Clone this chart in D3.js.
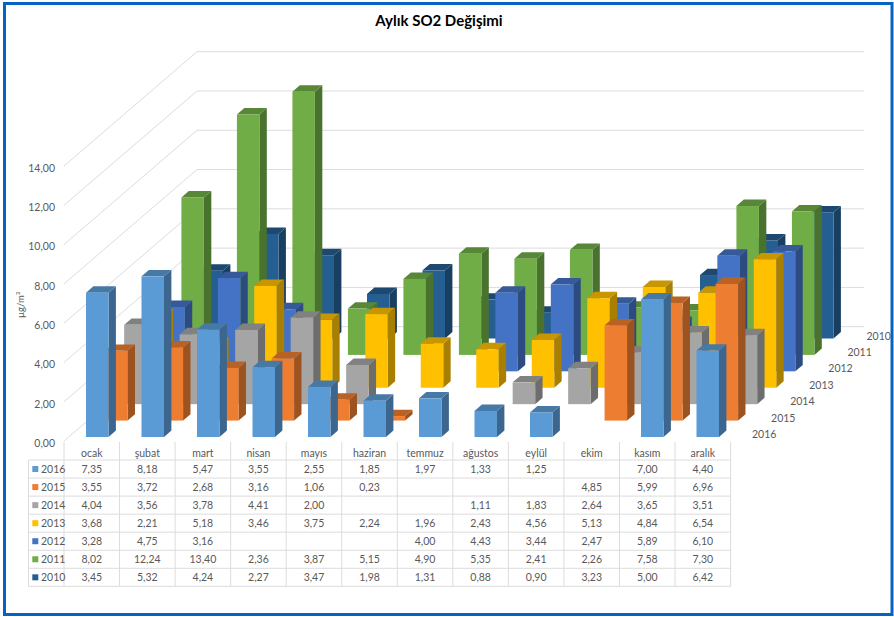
<html>
<meta charset="utf-8">
<head>
<script src="https://d3js.org/d3.v7.min.js"></script>
<style>
html, body { margin: 0; padding: 0; background: #fff; }
svg { display: block; }
text { font-family: Lato, "Open Sans", sans-serif; fill: #595959; }
</style>
</head>
<body>
<div id="center"></div>
<script>
var months = ["ocak", "şubat", "mart", "nisan", "mayıs", "haziran", "temmuz", "ağustos", "eylül", "ekim", "kasım", "aralık"];
var years = ["2016", "2015", "2014", "2013", "2012", "2011", "2010"];
var yTicks = [0, 2, 4, 6, 8, 10, 12, 14];

var v2016 = [7.35, 8.18, 5.47, 3.55, 2.55, 1.85, 1.97, 1.33, 1.25, null, 7.00, 4.40];
var v2015 = [3.55, 3.72, 2.68, 3.16, 1.06, 0.23, null, null, null, 4.85, 5.99, 6.96];
var v2014 = [4.04, 3.56, 3.78, 4.41, 2.00, null, null, 1.11, 1.83, 2.64, 3.65, 3.51];
var v2013 = [3.68, 2.21, 5.18, 3.46, 3.75, 2.24, 1.96, 2.43, 4.56, 5.13, 4.84, 6.54];
var v2012 = [3.28, 4.75, 3.16, null, null, null, 4.00, 4.43, 3.44, 2.47, 5.89, 6.10];
var v2011 = [8.02, 12.24, 13.40, 2.36, 3.87, 5.15, 4.90, 5.35, 2.41, 2.26, 7.58, 7.30];
var v2010 = [3.45, 5.32, 4.24, 2.27, 3.47, 1.98, 1.31, 0.88, 0.90, 3.23, 5.00, 6.42];
var values = [v2016, v2015, v2014, v2013, v2012, v2011, v2010];
var colors = ["#5b9bd5", "#ed7d31", "#a5a5a5", "#ffc000", "#4472c4", "#70ad47", "#255e91"];

var W = 894, H = 617;
var svg = d3.select("#center").append("svg").attr("width", W).attr("height", H);

// frame
svg.append("rect").attr("x", 4.5).attr("y", 3.5).attr("width", W - 6.5).attr("height", H - 6)
    .attr("fill", "#fff").attr("stroke", "#0563c1").attr("stroke-width", 3);

svg.append("text").attr("x", 439).attr("y", 26).attr("text-anchor", "middle")
    .style("font-size", "15px").style("font-weight", "bold").style("fill", "#000")
    .text("Aylık SO2 Değişimi");

// scales
var barW = 22.5, sideX = 7.4, sideY = 6.4;
var yVal = d3.scaleLinear().domain([0, 14]).range([0, 275]);
var xMonth = d3.scalePoint().domain(months).range([86, 86 + 11 * 55.5]);
var depX = d3.scalePoint().domain(years).range([0, 114.5]);
var depY = d3.scalePoint().domain(years).range([437, 338.5]);

// walls
var grid = svg.append("g").attr("fill", "none").attr("stroke", "#dcdcdc").attr("stroke-width", 1);
yTicks.forEach(function(t) {
    var h = yVal(t);
    grid.append("path").attr("d", "M64," + (441 - h) + "L197," + (326.7 - h) + "L864," + (326.7 - h));
});

var yAxisScale = d3.scaleLinear().domain([0, 14]).range([443, 168]);
var yAxis = svg.append("g").attr("transform", "translate(60,0)")
    .call(d3.axisLeft(yAxisScale).tickValues(yTicks).tickSize(0).tickPadding(5)
        .tickFormat(function(d) { return d.toFixed(2).replace(".", ","); }));
yAxis.select(".domain").remove();
yAxis.selectAll("text").style("font-size", "10.5px").style("font-family", "Lato").attr("fill", "#595959");

svg.append("text").attr("transform", "translate(24,305) rotate(-90)").attr("text-anchor", "middle")
    .style("font-size", "9.5px").text("µg/m³");

// bars, back row first
function shade(c, k) {
    var r = d3.rgb(c);
    return d3.rgb(r.r * k, r.g * k, r.b * k).formatHex();
}

for (var s = years.length - 1; s >= 0; s--) {
    var yr = years[s];
    var row = svg.append("g").attr("class", "row-" + yr);
    var bars = row.selectAll("g").data(values[s].map(function(v, i) { return { v: v, m: months[i] }; })
        .filter(function(d) { return d.v !== null; })).enter().append("g");

    var col = colors[s];
    var bx = function(d) { return xMonth(d.m) + depX(yr); };
    var by = depY(yr);

    bars.append("path").attr("fill", shade(col, 0.66)).attr("d", function(d) {
        var x = bx(d) + barW, t = by - yVal(d.v);
        return "M" + x + "," + by + "L" + (x + sideX) + "," + (by - sideY) + "L" + (x + sideX) + "," + (t - sideY) + "L" + x + "," + t + "Z";
    });
    bars.append("path").attr("fill", shade(col, 0.78)).attr("d", function(d) {
        var x = bx(d), t = by - yVal(d.v);
        return "M" + x + "," + t + "L" + (x + sideX) + "," + (t - sideY) + "L" + (x + barW + sideX) + "," + (t - sideY) + "L" + (x + barW) + "," + t + "Z";
    });
    bars.append("rect").attr("fill", col)
        .attr("x", bx)
        .attr("y", function(d) { return by - yVal(d.v); })
        .attr("width", barW)
        .attr("height", function(d) { return yVal(d.v); });
}

// depth axis labels
svg.append("g").selectAll("text").data(years).enter().append("text")
    .attr("x", function(d) { return 752 + depX(d); })
    .attr("y", function(d) { return depY(d) - 3 + 4; })
    .style("font-size", "10.5px")
    .text(function(d) { return d; });

// data table
var tableLeft = 28.5, firstCol = 64, colW = 55.55, headTop = 442, rowTop = 460, rowH = 18.05;
var tx = d3.scaleBand().domain(months).range([firstCol, firstCol + 12 * colW]);
var ty = d3.scaleBand().domain(years).range([rowTop, rowTop + 7 * rowH]);
var lines = svg.append("g").attr("stroke", "#dcdcdc").attr("stroke-width", 1);

d3.range(13).forEach(function(i) {
    var x = firstCol + i * colW;
    lines.append("line").attr("x1", x).attr("x2", x).attr("y1", headTop).attr("y2", rowTop + 7 * rowH);
});
lines.append("line").attr("x1", tableLeft).attr("x2", tableLeft).attr("y1", rowTop).attr("y2", rowTop + 7 * rowH);
d3.range(8).forEach(function(i) {
    var y = rowTop + i * rowH;
    lines.append("line").attr("x1", tableLeft).attr("x2", firstCol + 12 * colW).attr("y1", y).attr("y2", y);
});

svg.append("g").selectAll("text").data(months).enter().append("text")
    .attr("x", function(d) { return tx(d) + tx.bandwidth() / 2; })
    .attr("y", 457).attr("text-anchor", "middle")
    .style("font-size", "10.5px").text(function(d) { return d; });

years.forEach(function(yr, s) {
    var yMid = ty(yr) + ty.bandwidth() / 2;
    svg.append("rect").attr("x", 32.3).attr("y", yMid - 3).attr("width", 6).attr("height", 6).attr("fill", colors[s]);
    svg.append("text").attr("x", 41).attr("y", yMid + 3.8).style("font-size", "10.5px").text(yr);
    values[s].forEach(function(v, i) {
        if (v === null) return;
        svg.append("text").attr("x", tx(months[i]) + tx.bandwidth() / 2).attr("y", yMid + 3.8)
            .attr("text-anchor", "middle").style("font-size", "10.5px")
            .text(v.toFixed(2).replace(".", ","));
    });
});
</script>
</body>
</html>
